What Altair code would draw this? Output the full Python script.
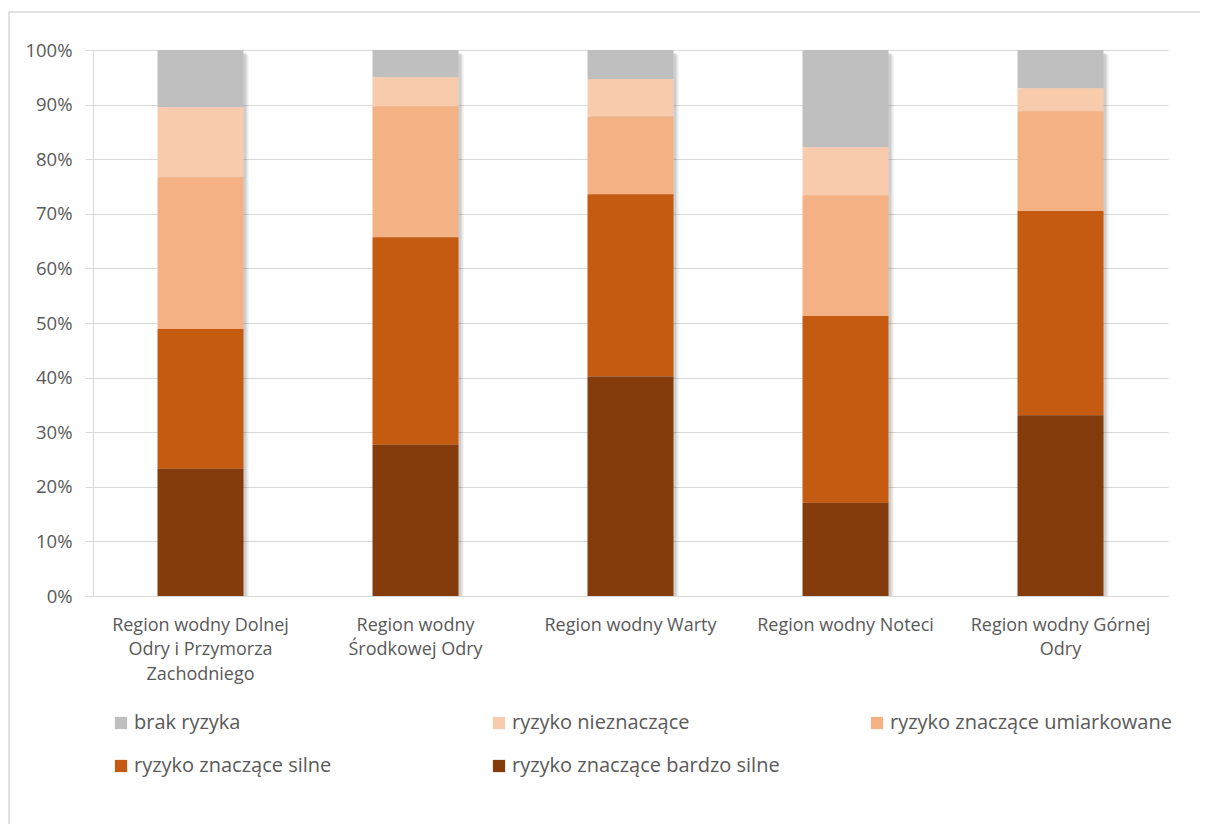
import altair as alt
import pandas as pd

regions = [
    "Region wodny Dolnej Odry i Przymorza Zachodniego",
    "Region wodny Środkowej Odry",
    "Region wodny Warty",
    "Region wodny Noteci",
    "Region wodny Górnej Odry",
]
region_lines = [
    ["Region wodny Dolnej", "Odry i Przymorza", "Zachodniego"],
    ["Region wodny", "Środkowej Odry"],
    ["Region wodny Warty"],
    ["Region wodny Noteci"],
    ["Region wodny Górnej", "Odry"],
]
categories = [
    "brak ryzyka",
    "ryzyko nieznaczące",
    "ryzyko znaczące umiarkowane",
    "ryzyko znaczące silne",
    "ryzyko znaczące bardzo silne",
]
colors = ["#BFBFBF", "#F8CBAD", "#F4B183", "#C55A11", "#843C0C"]

# shares in %, per region
bardzo_silne = [23.3, 27.7, 40.2, 17.1, 33.1]
silne = [25.6, 38.0, 33.4, 34.2, 37.4]
umiarkowane = [27.8, 24.0, 14.2, 22.1, 18.3]
nieznaczace = [12.8, 5.3, 6.9, 8.8, 4.2]
brak = [10.5, 5.0, 5.3, 17.8, 7.0]

series = {
    "brak ryzyka": brak,
    "ryzyko nieznaczące": nieznaczace,
    "ryzyko znaczące umiarkowane": umiarkowane,
    "ryzyko znaczące silne": silne,
    "ryzyko znaczące bardzo silne": bardzo_silne,
}

rows = []
for cat, vals in series.items():
    for r, v in zip(regions, vals):
        rows.append({"region": r, "kategoria": cat, "value": v,
                     "rank": len(categories) - 1 - categories.index(cat)})
df = pd.DataFrame(rows)

label_expr = " : ".join(
    f"datum.label == '{r}' ? {lines!r}" for r, lines in zip(regions, region_lines)
) + " : datum.label"

FONT = "Open Sans"
TXT = "#595959"

x_enc = alt.X("region:N", sort=regions, title=None,
              scale=alt.Scale(paddingInner=0.6, paddingOuter=0.3),
              axis=alt.Axis(labelAngle=0, labelExpr=label_expr, labelFontSize=18,
                            labelColor=TXT, labelFont=FONT, labelLineHeight=24.5,
                            labelPadding=20, ticks=False, domainColor="#D9D9D9",
                            labelLimit=300))

border = alt.Chart(pd.DataFrame({"a": [0]})).mark_rect(
    fill=None, stroke="#D9D9D9", strokeWidth=1.5, clip=False
).encode(x=alt.value(-84), x2=alt.value(1125), y=alt.value(-38), y2=alt.value(800))

tot = df.groupby("region", as_index=False)["value"].sum()
shadow = alt.Chart(tot).mark_bar(color="#000000", opacity=0.12, xOffset=3, yOffset=3, clip=True).encode(
    x=x_enc,
    y=alt.Y("value:Q", stack=None),
)
shadow2 = alt.Chart(tot).mark_bar(color="#000000", opacity=0.08, xOffset=5, yOffset=5, clip=True).encode(
    x=x_enc,
    y=alt.Y("value:Q", stack=None),
)

bars = alt.Chart(df).mark_bar().encode(
    x=x_enc,
    y=alt.Y("value:Q", stack="zero", title=None,
            scale=alt.Scale(domain=[0, 100], nice=False),
            axis=alt.Axis(values=list(range(0, 101, 10)), labelExpr="datum.value + '%'",
                          labelFontSize=18.5, labelColor=TXT, labelFont=FONT,
                          tickSize=8, tickColor="#D9D9D9", domainColor="#D9D9D9",
                          labelPadding=13, gridColor="#D9D9D9")),
    color=alt.Color("kategoria:N", sort=categories,
                    scale=alt.Scale(domain=categories, range=colors),
                    legend=alt.Legend(title=None, orient="none", legendX=18, legendY=663,
                                      direction="horizontal", gridAlign="all",
                                      columns=3, columnPadding=73, rowPadding=23,
                                      symbolType="square", symbolSize=150,
                                      symbolStrokeWidth=0, labelFontSize=20,
                                      labelColor=TXT, labelFont=FONT, labelOffset=3,
                                      labelLimit=400, padding=0)),
    order=alt.Order("rank:Q", sort="ascending"),
)

chart = alt.layer(border, shadow2, shadow, bars).properties(
    width=1075, height=546,
    autosize=alt.AutoSizeParams(type="none"),
    padding={"left": 85, "top": 42, "right": 32, "bottom": 228},
).configure_view(stroke=None).configure_axis(gridColor="#D9D9D9")

chart.save("out.html", embed_options={"renderer": "svg", "actions": False})
